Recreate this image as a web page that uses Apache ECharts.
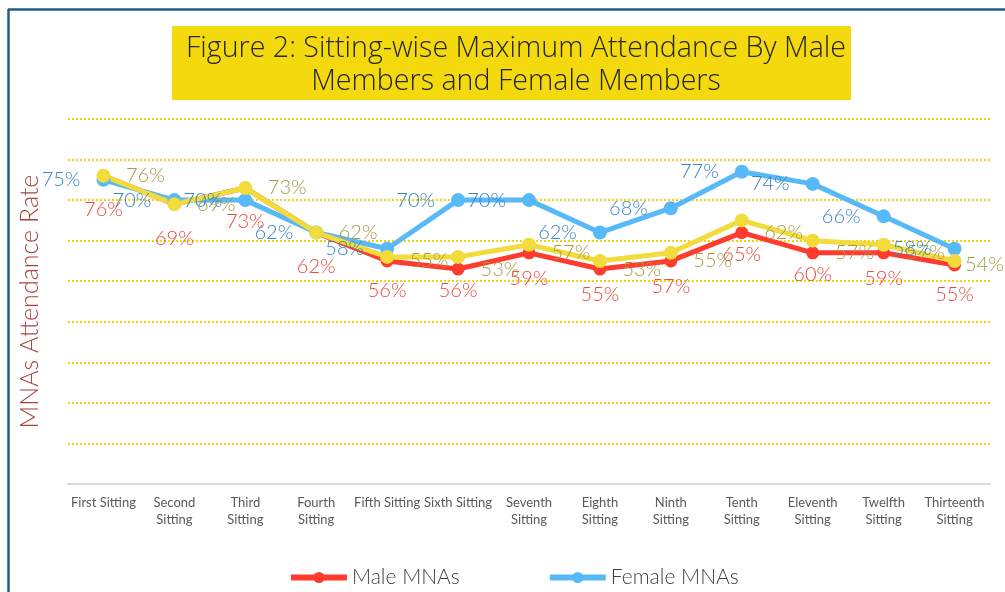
<!DOCTYPE html>
<html>
<head>
<meta charset="utf-8">
<script src="https://cdn.jsdelivr.net/npm/echarts@6/dist/echarts.min.js"></script>
<style>
html,body{margin:0;padding:0;background:#fff;}
#chart{width:1005px;height:592px;}
</style>
</head>
<body>
<div id="chart"></div>
<script>
const categories = ['First Sitting','Second\nSitting','Third\nSitting','Fourth\nSitting','Fifth Sitting','Sixth Sitting','Seventh\nSitting','Eighth\nSitting','Ninth\nSitting','Tenth\nSitting','Eleventh\nSitting','Twelfth\nSitting','Thirteenth\nSitting'];
const maleValues = [76, 69, 73, 62, 55, 53, 57, 53, 55, 62, 57, 57, 54];
const femaleValues = [75, 70, 70, 62, 58, 70, 70, 62, 68, 77, 74, 66, 58];
const overallValues = [76, 69, 73, 62, 56, 56, 59, 55, 57, 65, 60, 59, 55];
const titleText = 'Figure 2: Sitting-wise Maximum Attendance By Male\nMembers and Female Members';
const yAxisName = 'MNAs Attendance Rate';

const FONT = 'Lato';
const chart = echarts.init(document.getElementById('chart'), null, {renderer:'canvas'});
const pct = p => p.value + '%';
// last male label sits closer to its point so it stays inside the frame
const maleData = maleValues.map((v, i) => i === maleValues.length - 1 ? {value: v, label: {distance: 4}} : v);
chart.setOption({
  animation: false,
  backgroundColor: '#ffffff',
  textStyle: {fontFamily: FONT},
  graphic: [
    {type:'line', shape:{x1:8, y1:9.5, x2:1005, y2:9.5}, style:{stroke:'#1f5c8a', lineWidth:2.5}, z:100},
    {type:'line', shape:{x1:8.5, y1:9, x2:8.5, y2:592}, style:{stroke:'#1f5c8a', lineWidth:2.5}, z:100},
    {type:'rect', shape:{x:172, y:26, width:679, height:74}, style:{fill:'#f5d90f'}, z:-1}
  ],
  title: {
    text: titleText,
    left: 511, top: 27, textAlign: 'center',
    textStyle: {fontFamily: 'Open Sans', fontWeight: 300, fontSize: 28.6, lineHeight: 33, color: '#262626'}
  },
  legend: {
    data: ['Male MNAs', 'Female MNAs'],
    left: 283, top: 562,
    itemWidth: 56, itemHeight: 14, itemGap: 87,
    lineStyle: {width: 6},
    textStyle: {fontFamily: FONT, fontWeight: 300, fontSize: 21, color: '#404040'}
  },
  grid: {left: 68, right: 15, top: 119, bottom: 108, containLabel: false},
  xAxis: {
    type: 'category', data: categories, boundaryGap: true, z: 5,
    axisLine: {show: true, lineStyle: {color: '#d9d9d9', width: 2}},
    axisTick: {show: false},
    axisLabel: {interval: 0, color: '#595959', fontSize: 13, lineHeight: 17, margin: 10, fontFamily: FONT}
  },
  yAxis: {
    type: 'value', min: 0, max: 90, interval: 10,
    name: yAxisName, nameLocation: 'middle', nameRotate: 90, nameGap: 26,
    nameTextStyle: {color: '#a8423d', fontSize: 25, fontFamily: FONT, fontWeight: 300},
    axisLine: {show: false}, axisTick: {show: false}, axisLabel: {show: false},
    splitLine: {show: true, lineStyle: {color: '#f5d20a', width: 2, type: [2, 2]}}
  },
  series: [
    {
      name: 'Male MNAs', type: 'line', data: maleData,
      symbol: 'circle', symbolSize: 13,
      lineStyle: {color: '#ff3b2e', width: 5}, itemStyle: {color: '#ff3b2e'},
      label: {show: true, position: 'right', distance: 16, formatter: pct, color: '#a59a45', fontSize: 20, fontFamily: FONT, fontWeight: 300}
    },
    {
      name: 'Female MNAs', type: 'line', data: femaleValues,
      symbol: 'circle', symbolSize: 14,
      lineStyle: {color: '#58b9f8', width: 5}, itemStyle: {color: '#58b9f8'},
      label: {show: true, position: 'left', distance: 16, formatter: pct, color: '#3a86c3', fontSize: 20, fontFamily: FONT, fontWeight: 300}
    },
    {
      name: 'Overall', type: 'line', data: overallValues,
      symbol: 'circle', symbolSize: 14,
      lineStyle: {color: '#f2dc3b', width: 5}, itemStyle: {color: '#f2dc3b'},
      label: {show: true, position: 'bottom', distance: 17, formatter: pct, color: '#ea4a3f', fontSize: 20, fontFamily: FONT, fontWeight: 300}
    }
  ]
});
</script>
</body>
</html>
